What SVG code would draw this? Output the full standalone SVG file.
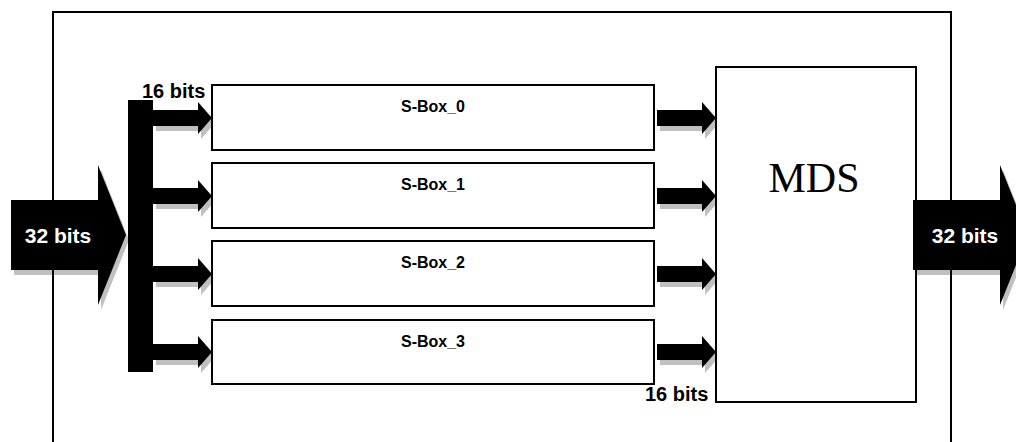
<svg xmlns="http://www.w3.org/2000/svg" width="1016" height="442" viewBox="0 0 1016 442">
  <style>
    .frame { fill: none; stroke: #000; stroke-width: 2; }
    .box { fill: #fff; stroke: #000; stroke-width: 2; }
    .shadow { fill: #c0c0c0; }
    .solid { fill: #000; }
    .lbl { font-family: "Liberation Sans", Arial, sans-serif; font-weight: bold; }
    .bus { font-size: 21px; fill: #fff; text-anchor: middle; }
    .width { font-size: 20px; fill: #000; }
    .sbox { font-size: 16px; fill: #000; text-anchor: middle; }
    .mds { font-family: "Liberation Serif", "Times New Roman", serif; font-size: 42px; fill: #000; text-anchor: middle; }
  </style>
  <defs>
    <!-- short feed arrow, origin at the tail centre -->
    <path id="feed" d="M0,-8 H45 V-16 L59,0 L45,16 V8 H0 Z"/>
    <!-- wide 32-bit bus arrow, origin at the tail centre -->
    <path id="wide" d="M0,-35 H87 V-70 L115,0 L87,70 V35 H0 Z"/>
  </defs>

  <rect width="1016" height="442" fill="#fff"/>

  <!-- drop shadows sit under the frame lines -->
  <g id="shadows" class="shadow">
    <use href="#wide" x="14" y="240"/>
    <use href="#wide" x="916" y="240"/>
    <use href="#feed" x="156" y="123"/>
    <use href="#feed" x="156" y="201"/>
    <use href="#feed" x="156" y="279"/>
    <use href="#feed" x="156" y="357"/>
    <use href="#feed" x="660" y="123"/>
    <use href="#feed" x="660" y="201"/>
    <use href="#feed" x="660" y="279"/>
    <use href="#feed" x="660" y="357"/>
  </g>

  <path id="frame" class="frame" d="M53,443 V12 H951 V443"/>

  <g id="sbox0">
    <rect class="box" x="212" y="85" width="442" height="65"/>
    <text class="lbl sbox" x="433" y="112">S-Box_0</text>
  </g>
  <g id="sbox1">
    <rect class="box" x="212" y="163" width="442" height="65"/>
    <text class="lbl sbox" x="433" y="190">S-Box_1</text>
  </g>
  <g id="sbox2">
    <rect class="box" x="212" y="241" width="442" height="65"/>
    <text class="lbl sbox" x="433" y="268">S-Box_2</text>
  </g>
  <g id="sbox3">
    <rect class="box" x="212" y="320" width="442" height="64"/>
    <text class="lbl sbox" x="433" y="347">S-Box_3</text>
  </g>

  <g id="mds">
    <rect class="box" x="716" y="67" width="200" height="335"/>
    <text class="mds" x="814" y="192">MDS</text>
  </g>

  <g id="connectors" class="solid">
    <!-- splitter bar -->
    <rect x="128" y="100" width="25" height="272"/>
    <use href="#feed" x="153" y="118"/>
    <use href="#feed" x="153" y="196"/>
    <use href="#feed" x="153" y="274"/>
    <use href="#feed" x="153" y="352"/>
    <use href="#feed" x="657" y="118"/>
    <use href="#feed" x="657" y="196"/>
    <use href="#feed" x="657" y="274"/>
    <use href="#feed" x="657" y="352"/>
  </g>

  <g id="input">
    <use href="#wide" x="11" y="235" class="solid"/>
    <text class="lbl bus" x="58" y="243">32 bits</text>
  </g>
  <g id="output">
    <use href="#wide" x="913" y="235" class="solid"/>
    <text class="lbl bus" x="965" y="243">32 bits</text>
  </g>

  <g id="widths">
    <text class="lbl width" x="142" y="98">16 bits</text>
    <text class="lbl width" x="645" y="401">16 bits</text>
  </g>
</svg>
